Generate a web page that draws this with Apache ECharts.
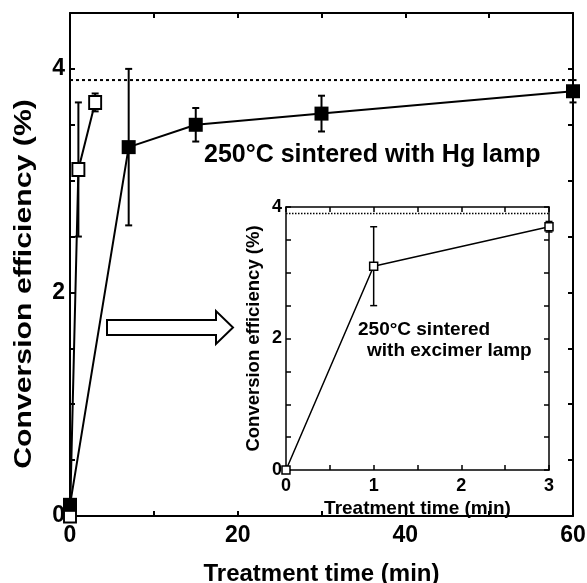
<!DOCTYPE html>
<html>
<head>
<meta charset="utf-8">
<script src="https://cdn.jsdelivr.net/npm/echarts@6/dist/echarts.min.js"></script>
<style>
    html, body { margin: 0; padding: 0; background: #fff; }
    #chart { width: 587px; height: 583px; }
</style>
</head>
<body>
<div id="chart"></div>
<script>
    // Hg lamp (main plot), time in min
    var hgTime = [0, 7, 15, 30, 60];
    var hgEff = [0.1, 3.3, 3.5, 3.6, 3.8];
    var hgErr = [0, 0.7, 0.15, 0.16, 0.1];
    // excimer lamp (inset and main)
    var exTime = [0, 1, 3];
    var exEff = [0, 3.1, 3.7];
    var exErr = [0, 0.6, 0.08];
    // dotted reference level
    var refLevel = 3.9;
    // tick labels
    var mainXLabels = [0, 20, 40, 60];
    var mainYLabels = [0, 2, 4];
    var insetXLabels = [0, 1, 2, 3];
    var insetYLabels = [0, 2, 4];

    var FONT = "'Liberation Sans', Arial, sans-serif";

    function pairs(xs, ys) {
        return xs.map(function (x, i) { return [x, ys[i]]; });
    }

    function errData(xs, ys, es) {
        return xs.map(function (x, i) { return [x, ys[i] - es[i], ys[i] + es[i]]; });
    }

    function errRender(cap, width) {
        return function (params, api) {
            var lo = api.coord([api.value(0), api.value(1)]);
            var hi = api.coord([api.value(0), api.value(2)]);
            if (Math.abs(lo[1] - hi[1]) < 1) return null;
            var st = { stroke: '#000', lineWidth: width };
            return {
                type: 'group',
                children: [
                    { type: 'line', shape: { x1: lo[0], y1: lo[1], x2: hi[0], y2: hi[1] }, style: st },
                    { type: 'line', shape: { x1: lo[0] - cap, y1: lo[1], x2: lo[0] + cap, y2: lo[1] }, style: st },
                    { type: 'line', shape: { x1: hi[0] - cap, y1: hi[1], x2: hi[0] + cap, y2: hi[1] }, style: st }
                ]
            };
        };
    }

    function axisBase(gridIndex, pos, min, max, step, lw, show, labels, fs) {
        return {
            type: 'value', gridIndex: gridIndex, position: pos,
            min: min, max: max, interval: step,
            axisLine: { show: true, onZero: false, lineStyle: { color: '#000', width: lw } },
            axisTick: { show: true, inside: true, length: 5, lineStyle: { color: '#000', width: lw } },
            splitLine: { show: false },
            axisLabel: {
                show: show, color: '#000', fontFamily: FONT, fontWeight: 'bold', fontSize: fs,
                formatter: function (v) { return labels.indexOf(v) >= 0 ? String(v) : ''; }
            }
        };
    }

    var x0 = axisBase(0, 'bottom', 0, 60, 10, 2, true, mainXLabels, 23);
    x0.axisLabel.margin = 8;
    x0.name = 'Treatment time (min)';
    x0.nameLocation = 'middle';
    x0.nameGap = 46;
    x0.nameTextStyle = { color: '#000', fontFamily: FONT, fontWeight: 'bold', fontSize: 24 };

    var y0 = axisBase(0, 'left', 0, 4.5, 0.5, 2, true, mainYLabels, 23);
    y0.axisLabel.margin = 5;

    var x2 = axisBase(1, 'bottom', 0, 3, 0.5, 1.5, true, insetXLabels, 18);
    x2.axisLabel.margin = 7;
    x2.name = 'Treatment time (min)';
    x2.nameLocation = 'middle';
    x2.nameGap = 29;
    x2.nameTextStyle = { color: '#000', fontFamily: FONT, fontWeight: 'bold', fontSize: 19 };

    var y2 = axisBase(1, 'left', 0, 4, 0.5, 1.5, true, insetYLabels, 18);
    y2.axisLabel.margin = 4;
    y2.name = 'Conversion efficiency (%)';
    y2.nameLocation = 'middle';
    y2.nameGap = 23;
    y2.nameTextStyle = { color: '#000', fontFamily: FONT, fontWeight: 'bold', fontSize: 18.5 };

    var option = {
        backgroundColor: '#fff',
        animation: false,
        grid: [
            { left: 70, top: 13, width: 503, height: 503, outerBoundsMode: 'none', containLabel: false },
            { left: 286, top: 207, width: 263, height: 263, outerBoundsMode: 'none', containLabel: false }
        ],
        xAxis: [
            x0,
            axisBase(0, 'top', 0, 60, 10, 2, false, [], 22),
            x2,
            axisBase(1, 'top', 0, 3, 0.5, 1.5, false, [], 18)
        ],
        yAxis: [
            y0,
            axisBase(0, 'right', 0, 4.5, 0.5, 2, false, [], 22),
            y2,
            axisBase(1, 'right', 0, 4, 0.5, 1.5, false, [], 18)
        ],
        graphic: [
            {
                // main y-axis title, stretched along its length like the original
                type: 'text', x: 24, y: 284, rotation: Math.PI / 2, scaleX: 1.26,
                style: {
                    text: 'Conversion efficiency (%)', font: 'bold 24px ' + FONT, fill: '#000',
                    x: 0, y: 0, align: 'center', verticalAlign: 'middle'
                }
            },
            {
                type: 'polygon',
                shape: { points: [[107, 320], [216, 320], [216, 311], [233, 327.5], [216, 344], [216, 335], [107, 335]] },
                style: { fill: '#fff', stroke: '#000', lineWidth: 2 }
            },
            {
                type: 'text', left: 204, top: 143,
                style: { text: '250°C sintered with Hg lamp', font: 'bold 25px ' + FONT, fill: '#000' }
            },
            {
                type: 'text', left: 358, top: 320,
                style: { text: '250°C sintered', font: 'bold 19px ' + FONT, fill: '#000' }
            },
            {
                type: 'text', left: 367, top: 341,
                style: { text: 'with excimer lamp', font: 'bold 19px ' + FONT, fill: '#000' }
            }
        ],
        series: [
            {
                type: 'line', xAxisIndex: 0, yAxisIndex: 0, data: [[0, refLevel], [60, refLevel]],
                symbol: 'none', lineStyle: { color: '#000', width: 2, type: [3, 3] }
            },
            {
                type: 'custom', xAxisIndex: 0, yAxisIndex: 0, data: errData(hgTime, hgEff, hgErr),
                renderItem: errRender(3.5, 2), z: 3
            },
            {
                type: 'custom', xAxisIndex: 0, yAxisIndex: 0, data: errData(exTime, exEff, exErr),
                renderItem: errRender(3.5, 2), z: 3
            },
            {
                type: 'line', xAxisIndex: 0, yAxisIndex: 0, data: pairs(exTime, exEff),
                symbol: 'rect', symbolSize: [12, 13], z: 4,
                lineStyle: { color: '#000', width: 2 },
                itemStyle: { color: '#fff', borderColor: '#000', borderWidth: 2 }
            },
            {
                type: 'line', xAxisIndex: 0, yAxisIndex: 0, data: pairs(hgTime, hgEff),
                symbol: 'rect', symbolSize: 14, z: 5,
                lineStyle: { color: '#000', width: 2 },
                itemStyle: { color: '#000', borderColor: '#000', borderWidth: 0 }
            },
            {
                type: 'line', xAxisIndex: 2, yAxisIndex: 2, data: [[0, refLevel], [3, refLevel]],
                symbol: 'none', lineStyle: { color: '#000', width: 1.5, type: [1.5, 1.5] }
            },
            {
                type: 'custom', xAxisIndex: 2, yAxisIndex: 2, data: errData(exTime, exEff, exErr),
                renderItem: errRender(3.5, 1.5), z: 3
            },
            {
                type: 'line', xAxisIndex: 2, yAxisIndex: 2, data: pairs(exTime, exEff),
                symbol: 'rect', symbolSize: 8, z: 4,
                lineStyle: { color: '#000', width: 1.5 },
                itemStyle: { color: '#fff', borderColor: '#000', borderWidth: 1.5 }
            }
        ]
    };

    var myChart = echarts.init(document.getElementById('chart'));
    myChart.setOption(option);
</script>
</body>
</html>
